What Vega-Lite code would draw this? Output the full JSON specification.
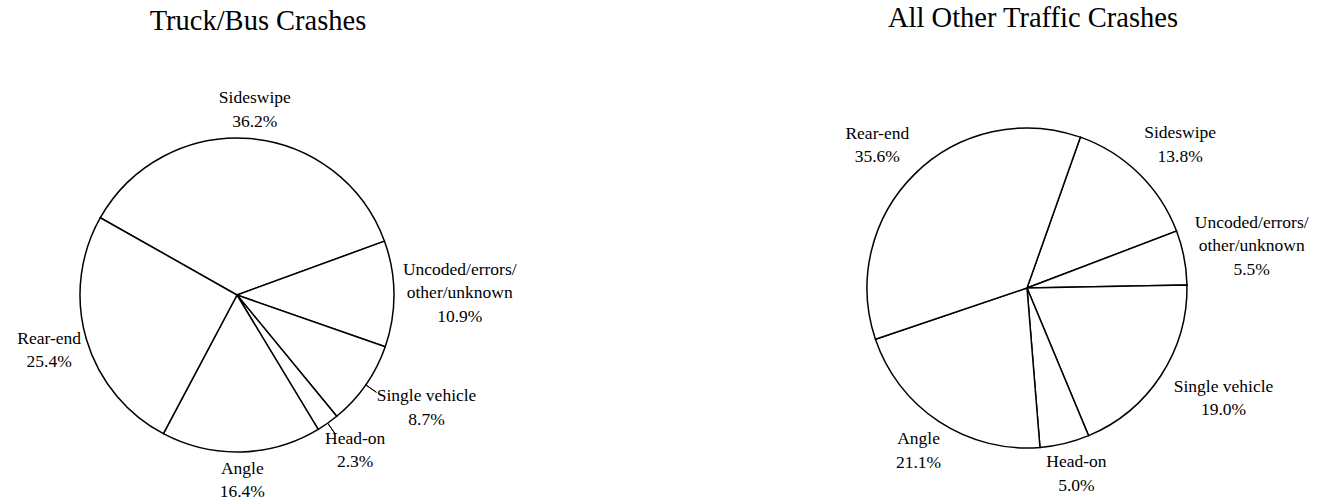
{
  "$schema": "https://vega.github.io/schema/vega-lite/v6.json",
  "padding": {"top": 3, "left": 0, "right": 0, "bottom": 0},
  "bounds": "flush",
  "spacing": 243,
  "background": "white",
  "config": {
    "view": {"stroke": null},
    "font": "Liberation Serif",
    "title": {"font": "Liberation Serif", "fontSize": 28.5, "fontWeight": "normal", "color": "black", "anchor": "middle"}
  },
  "datasets": {
    "truck": [
      {"cat": "Sideswipe", "pct": 36.2, "ord": 1},
      {"cat": "Uncoded/errors/other/unknown", "pct": 10.9, "ord": 2},
      {"cat": "Single vehicle", "pct": 8.7, "ord": 3},
      {"cat": "Head-on", "pct": 2.3, "ord": 4},
      {"cat": "Angle", "pct": 16.4, "ord": 5},
      {"cat": "Rear-end", "pct": 25.4, "ord": 6}
    ],
    "other": [
      {"cat": "Sideswipe", "pct": 13.8, "ord": 1},
      {"cat": "Uncoded/errors/other/unknown", "pct": 5.5, "ord": 2},
      {"cat": "Single vehicle", "pct": 19.0, "ord": 3},
      {"cat": "Head-on", "pct": 5.0, "ord": 4},
      {"cat": "Angle", "pct": 21.1, "ord": 5},
      {"cat": "Rear-end", "pct": 35.6, "ord": 6}
    ]
  },
  "hconcat": [
    {
      "width": 474,
      "height": 414,
      "title": {"text": "Truck/Bus Crashes", "offset": 53, "dx": 21},
      "data": {"name": "truck"},
      "transform": [
        {"stack": "pct", "groupby": [], "sort": [{"field": "ord"}], "as": ["t0", "t1"]},
        {"calculate": "(datum.t0 + datum.t1) / 2", "as": "mid"},
        {"calculate": "datum.mid + 0.01", "as": "mid2"},
        {"calculate": "replace(datum.cat,'errors/','errors/\\n') + '\\n' + format(datum.pct,'.1f') + '%'", "as": "label"},
        {"calculate": "-1.056 + datum.mid / 99.9 * 2 * PI", "as": "ang"},
        {"calculate": "length(split(datum.label, '\\n'))", "as": "nl"},
        {"calculate": "8.1 * max(length(split(datum.label, '\\n')[0]), length(split(datum.label, '\\n')[1]))", "as": "w"},
        {"calculate": "clamp(1.5 * sin(datum.ang), -1, 1) * datum.w / 2", "as": "ldx"},
        {"calculate": "-clamp(1.5 * cos(datum.ang), -1, 1) * datum.nl * 23.5 / 2 - (datum.nl - 1) * 23.5 / 2", "as": "ldy"}
      ],
      "layer": [
        {
          "mark": {"type": "arc", "radius": 157, "fill": "white", "stroke": "black", "strokeWidth": 1.5},
          "encoding": {
            "theta": {"field": "t0", "type": "quantitative", "scale": {"domain": [0, 99.9], "range": [-1.056, 5.227], "nice": false, "zero": true}},
            "theta2": {"field": "t1"}
          }
        },
        {
          "transform": [{"filter": "datum.cat === 'Single vehicle' || datum.cat === 'Head-on'"}],
          "mark": {"type": "arc", "radius": 170, "radius2": 157, "fill": null, "stroke": "black", "strokeWidth": 1},
          "encoding": {
            "theta": {"field": "mid", "type": "quantitative"},
            "theta2": {"field": "mid2"}
          }
        },
        {
          "mark": {"type": "text", "radius": 162, "fontSize": 17.5, "lineBreak": "\n", "lineHeight": 23.5, "align": "center", "baseline": "middle", "dx": {"expr": "datum.ldx"}, "dy": {"expr": "datum.ldy"}, "color": "black"},
          "encoding": {
            "theta": {"field": "mid", "type": "quantitative"},
            "text": {"field": "label"}
          }
        }
      ]
    },
    {
      "width": 620,
      "height": 400,
      "title": {"text": "All Other Traffic Crashes", "offset": 56, "dx": 6},
      "data": {"name": "other"},
      "transform": [
        {"stack": "pct", "groupby": [], "sort": [{"field": "ord"}], "as": ["t0", "t1"]},
        {"calculate": "(datum.t0 + datum.t1) / 2", "as": "mid"},
        {"calculate": "replace(datum.cat,'errors/','errors/\\n') + '\\n' + format(datum.pct,'.1f') + '%'", "as": "label"},
        {"calculate": "0.34 + datum.mid / 100 * 2 * PI", "as": "ang"},
        {"calculate": "length(split(datum.label, '\\n'))", "as": "nl"},
        {"calculate": "8.1 * max(length(split(datum.label, '\\n')[0]), length(split(datum.label, '\\n')[1]))", "as": "w"},
        {"calculate": "clamp(1.5 * sin(datum.ang), -1, 1) * datum.w / 2", "as": "ldx"},
        {"calculate": "-clamp(1.5 * cos(datum.ang), -1, 1) * datum.nl * 23.5 / 2 - (datum.nl - 1) * 23.5 / 2", "as": "ldy"}
      ],
      "layer": [
        {
          "mark": {"type": "arc", "radius": 160, "fill": "white", "stroke": "black", "strokeWidth": 1.5},
          "encoding": {
            "theta": {"field": "t0", "type": "quantitative", "scale": {"domain": [0, 100], "range": [0.34, 6.623], "nice": false, "zero": true}},
            "theta2": {"field": "t1"}
          }
        },
        {
          "mark": {"type": "text", "radius": 167, "fontSize": 17.5, "lineBreak": "\n", "lineHeight": 23.5, "align": "center", "baseline": "middle", "dx": {"expr": "datum.ldx"}, "dy": {"expr": "datum.ldy"}, "color": "black"},
          "encoding": {
            "theta": {"field": "mid", "type": "quantitative"},
            "text": {"field": "label"}
          }
        }
      ]
    }
  ]
}
